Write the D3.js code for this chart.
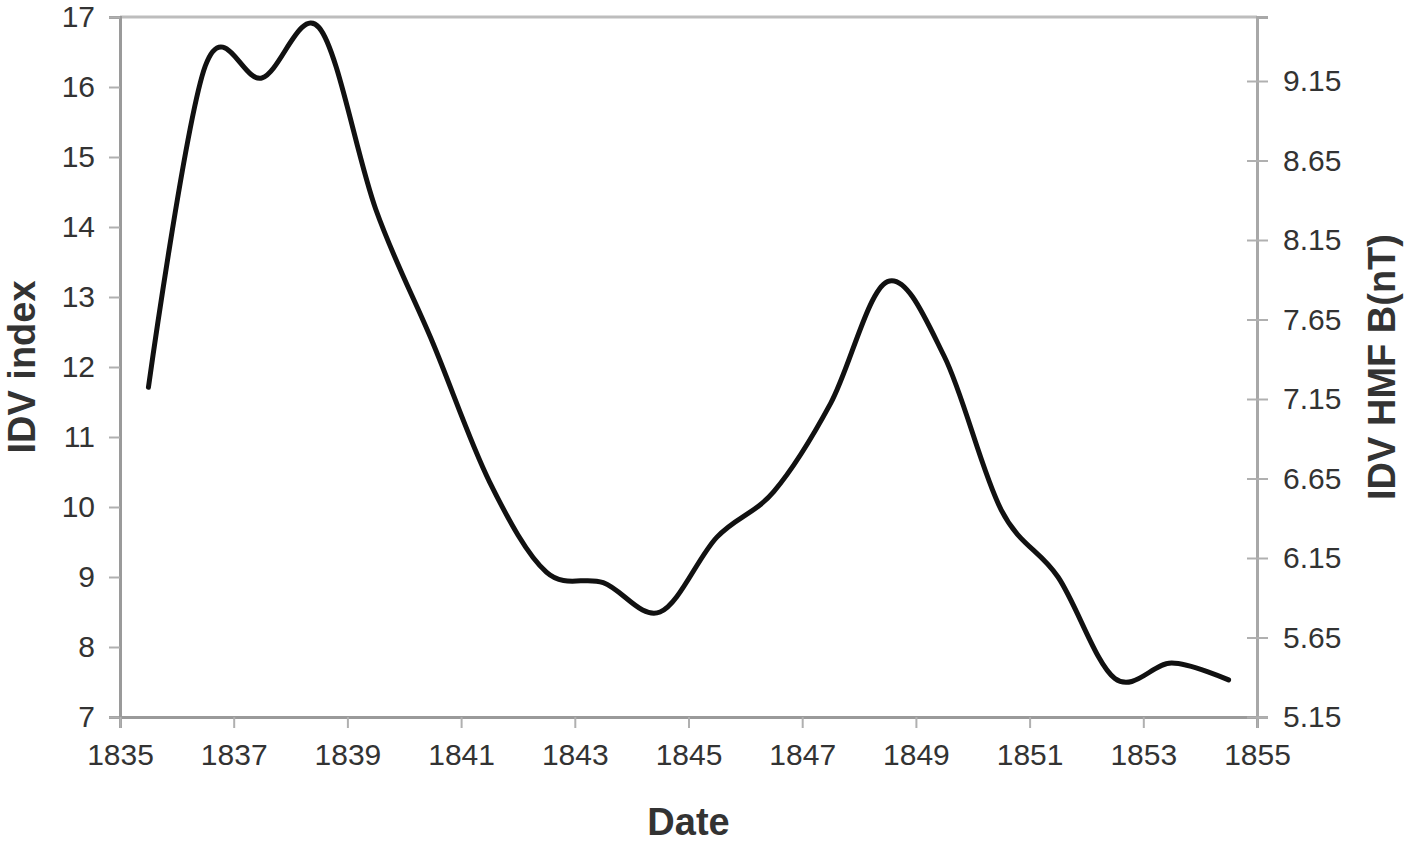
<!DOCTYPE html>
<html>
<head>
<meta charset="utf-8">
<script src="https://cdn.jsdelivr.net/npm/d3@7"></script>
<style>
  body { margin: 0; background: #fff; }
  text { font-family: "Liberation Sans", Arial, sans-serif; }
</style>
</head>
<body>
<svg id="chart"></svg>
<script>
// annual values (mid-year)
var years = [1835.5, 1836.5, 1837.5, 1838.5, 1839.5, 1840.5, 1841.5, 1842.5, 1843.5, 1844.5,
             1845.5, 1846.5, 1847.5, 1848.5, 1849.5, 1850.5, 1851.5, 1852.5, 1853.5, 1854.5];
var idv = [11.71, 16.3, 16.13, 16.85, 14.25, 12.35, 10.36, 9.07, 8.92, 8.5,
           9.57, 10.22, 11.48, 13.22, 12.15, 9.96, 9.0, 7.55, 7.77, 7.53];

var xTicks = [1835, 1837, 1839, 1841, 1843, 1845, 1847, 1849, 1851, 1853, 1855];
var leftTicks = [7, 8, 9, 10, 11, 12, 13, 14, 15, 16, 17];
var rightTicks = [5.15, 5.65, 6.15, 6.65, 7.15, 7.65, 8.15, 8.65, 9.15];

var W = 1410, H = 844;
var margin = {top: 17, right: 153, bottom: 127, left: 120};
var width = W - margin.left - margin.right,
    height = H - margin.top - margin.bottom;

var svg = d3.select("#chart").attr("width", W).attr("height", H);
var g = svg.append("g").attr("transform", "translate(" + margin.left + "," + margin.top + ")");

var x = d3.scaleLinear().domain([1835, 1855]).range([0, width]);
var y = d3.scaleLinear().domain([7, 17]).range([height, 0]);
// right axis: 5.15 at bottom, 0.5 nT per ~79.5px
var y2 = d3.scaleLinear().domain([5.15, 5.15 + height / 159]).range([height, 0]);

var axisColor = "#9a9a9a", textColor = "#333";

// top border
g.append("line").attr("x1", 0).attr("x2", width).attr("y1", 0).attr("y2", 0)
  .attr("stroke", "#bdbdbd").attr("stroke-width", 3);

// left axis
var yAxis = g.append("g")
  .call(d3.axisLeft(y).tickValues(leftTicks).tickSize(11).tickPadding(14).tickFormat(d3.format("d")));
// bottom axis
var xAxis = g.append("g").attr("transform", "translate(0," + height + ")")
  .call(d3.axisBottom(x).tickValues(xTicks).tickSize(11).tickPadding(16).tickFormat(d3.format("d")));
// right axis
var rAxis = g.append("g").attr("transform", "translate(" + width + ",0)")
  .call(d3.axisRight(y2).tickValues(rightTicks).tickSize(11).tickPadding(15).tickFormat(d3.format(".2f")));

[yAxis, xAxis, rAxis].forEach(function(a) {
  a.select(".domain").attr("stroke", axisColor).attr("stroke-width", 3);
  a.selectAll(".tick line").attr("stroke", "#b0b0b0").attr("stroke-width", 2);
  a.selectAll(".tick text").attr("fill", textColor).style("font-size", "30px")
    .style("font-family", "'Liberation Sans', Arial, sans-serif");
});
rAxis.select(".domain").attr("stroke", "#a8a8a8");
// right ticks cross the axis
rAxis.selectAll(".tick line").attr("x1", -10);

// the curve
var line = d3.line()
  .x(function(d, i) { return x(years[i]); })
  .y(function(d) { return y(d); })
  .curve(d3.curveCatmullRom.alpha(0));

g.append("path")
  .datum(idv)
  .attr("d", line)
  .attr("fill", "none")
  .attr("stroke", "#111")
  .attr("stroke-width", 5)
  .attr("stroke-linejoin", "round")
  .attr("stroke-linecap", "round");

// axis titles
svg.append("text")
  .attr("x", margin.left + width / 2).attr("y", 835)
  .attr("text-anchor", "middle")
  .attr("fill", textColor).style("font-size", "38px").style("font-weight", "bold")
  .text("Date");

svg.append("text")
  .attr("transform", "translate(35," + (margin.top + height / 2) + ") rotate(-90)")
  .attr("text-anchor", "middle")
  .attr("fill", textColor).style("font-size", "38px").style("font-weight", "bold")
  .text("IDV index");

svg.append("text")
  .attr("transform", "translate(1395," + (margin.top + height / 2) + ") rotate(-90)")
  .attr("text-anchor", "middle")
  .attr("fill", textColor).style("font-size", "38px").style("font-weight", "bold")
  .text("IDV HMF B(nT)");
</script>
</body>
</html>
